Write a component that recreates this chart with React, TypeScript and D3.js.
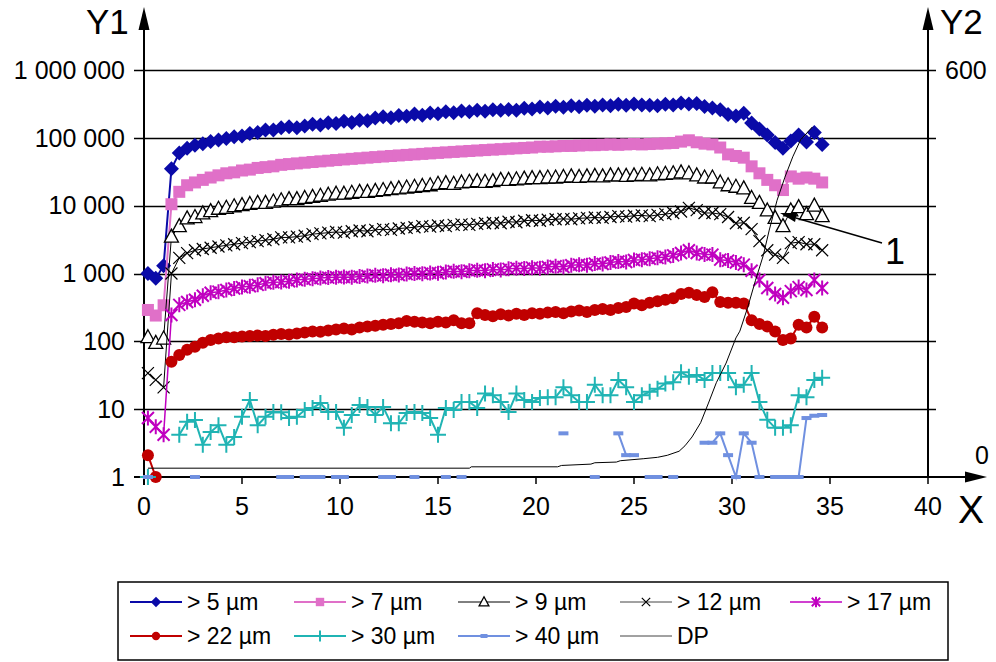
import React from "react";
import * as d3 from "d3";

// sampling times (h)
const times = [
  0.2, 0.6, 1.0, 1.4, 1.8, 2.2, 2.6, 3.0, 3.4, 3.8,
  4.2, 4.6, 5.0, 5.4, 5.8, 6.2, 6.6, 7.0, 7.4, 7.8,
  8.2, 8.6, 9.0, 9.4, 9.8, 10.2, 10.6, 11.0, 11.4, 11.8,
  12.2, 12.6, 13.0, 13.4, 13.8, 14.2, 14.6, 15.0, 15.4, 15.8,
  16.2, 16.6, 17.0, 17.4, 17.8, 18.2, 18.6, 19.0, 19.4, 19.8,
  20.2, 20.6, 21.0, 21.4, 21.8, 22.2, 22.6, 23.0, 23.4, 23.8,
  24.2, 24.6, 25.0, 25.4, 25.8, 26.2, 26.6, 27.0, 27.4, 27.8,
  28.2, 28.6, 29.0, 29.4, 29.8, 30.2, 30.6, 31.0, 31.4, 31.8,
  32.2, 32.6, 33.0, 33.4, 33.8, 34.2, 34.6,
];

const gt5 = [
  1000, 850, 1300, 35000, 60000, 70000, 78000, 82000, 88000, 93000,
  98000, 104000, 106000, 116000, 120000, 130000, 131000, 141000, 146000, 141000,
  150000, 158000, 155000, 167000, 162000, 176000, 168000, 182000, 178000, 196000,
  205000, 198000, 214000, 208000, 225000, 215000, 232000, 226000, 242000, 234000,
  248000, 242000, 256000, 246000, 260000, 254000, 262000, 256000, 272000, 265000,
  285000, 276000, 292000, 282000, 296000, 288000, 302000, 293000, 306000, 298000,
  312000, 303000, 316000, 306000, 302000, 296000, 312000, 305000, 325000, 315000,
  322000, 290000, 275000, 260000, 220000, 210000, 230000, 165000, 135000, 110000,
  85000, 70000, 90000, 110000, 87000, 120000, 80000,
];

const gt7 = [
  290, 240, 340, 10500, 16000, 20000, 22000, 24000, 26000, 28000,
  30000, 31000, 33000, 34000, 36000, 37000, 38000, 40000, 41000, 42000,
  43000, 44000, 45000, 46000, 47000, 48000, 49000, 50000, 51000, 52000,
  53000, 54000, 55000, 56000, 57000, 58000, 59000, 60000, 61000, 62000,
  63000, 64000, 65000, 66000, 67000, 68000, 69000, 70000, 71000, 72000,
  74000, 74000, 75000, 76000, 76000, 77000, 78000, 78000, 79000, 80000,
  79000, 80000, 81000, 80000, 81000, 82000, 83000, 84000, 88000, 92000,
  86000, 82000, 80000, 72000, 57000, 54000, 51000, 38000, 30000, 24000,
  20000, 17000, 27000, 25000, 26000, 25000, 22000,
];

const gt9 = [
  115, 95, 110, 3500, 5000, 6500, 6800, 7700, 8300, 9000,
  9300, 9800, 10200, 10600, 11000, 11000, 11500, 12000, 12500, 12500,
  13000, 13500, 14000, 14500, 15000, 15000, 15500, 16000, 16000, 16500,
  17000, 17500, 18000, 18500, 19000, 19500, 20000, 21000, 21500, 21000,
  22000, 22500, 23000, 22500, 23000, 24000, 24000, 24500, 25000, 25500,
  25500, 26000, 26000, 26500, 27000, 26500, 27000, 27500, 27000, 28000,
  28000, 27500, 28000, 28500, 28000, 29000, 29500, 30000, 31000, 30000,
  28000, 26000, 26000, 22000, 20000, 19000, 18000, 13000, 11000, 8500,
  6600, 5000, 8500, 9500, 7500, 10000, 7000,
];

const gt12 = [
  34, 27, 21, 1000, 1700, 2000, 2200, 2300, 2400, 2500,
  2600, 2700, 2800, 2900, 3000, 3100, 3200, 3400, 3400, 3500,
  3600, 3800, 3900, 4000, 4100, 4000, 4200, 4300, 4200, 4400,
  4500, 4400, 4600, 4700, 4800, 5000, 4900, 5100, 5000, 5200,
  5300, 5200, 5400, 5500, 5600, 5500, 5800, 5700, 6000, 6100,
  6000, 6200, 6300, 6400, 6300, 6500, 6600, 6700, 6600, 6800,
  7000, 6900, 7100, 7200, 7000, 7300, 7500, 7800, 8200, 9300,
  8600, 7800, 7800, 7500, 6800, 5500, 5600, 4500, 3000, 2200,
  1900, 1700, 2800, 2900, 2700, 2700, 2200,
];

const gt17 = [
  7.4, 5.5, 4.2, 245, 345, 380, 410, 470, 520, 540,
  570, 600, 630, 650, 680, 720, 740, 750, 770, 800,
  820, 840, 860, 870, 880, 890, 880, 900, 920, 940,
  930, 960, 950, 980, 1000, 990, 1020, 1010, 1050, 1080,
  1060, 1100, 1120, 1100, 1150, 1130, 1170, 1200, 1180, 1220,
  1200, 1250, 1280, 1250, 1320, 1350, 1320, 1400, 1380, 1450,
  1500, 1480, 1580, 1600, 1650, 1700, 1750, 1850, 2000, 2200,
  2000, 1900, 1900, 1600, 1550, 1450, 1350, 1100, 800, 610,
  500, 440, 550, 630, 570, 800, 610,
];

const gt22 = [
  2.1, 1.0, null, 50, 63, 75, 83, 95, 105, 110,
  115, 115, 118, 120, 122, 120, 125, 128, 126, 130,
  135, 140, 138, 145, 150, 155, 150, 160, 165, 170,
  175, 180, 185, 200, 195, 190, 185, 195, 190, 205,
  185, 185, 260, 245, 235, 250, 240, 255, 245, 260,
  255, 265, 270, 260, 275, 285, 270, 290, 300, 290,
  310, 320, 360, 340, 370, 390, 410, 430, 500, 520,
  480, 450, 530, 380, 370, 370, 360, 205, 180, 165,
  140, 105, 110, 175, 160, 230, 160,
];

const gt30 = [
  1, null, null, null, 4.2, 6.5, 6.9, 3.0, 4.6, 5.8,
  3.0, 3.9, 7.7, 13.7, 5.8, 7.7, 9.1, 9.0, 7.4, 7.7,
  9.7, 10.4, 12.3, 9.1, 9.1, 5.3, 8.2, 11.5, 10.8, 8.2,
  10.8, 6.2, 6.2, 8.8, 9.1, 8.8, 7.4, 4.2, 10.4, 9.7,
  12.8, 12.8, 10.4, 17, 16, 12.8, 9.1, 17, 13.7, 12.8,
  14.6, 15, 15, 21, 16, 12.8, 12.8, 23, 16, 16,
  27, 21, 12.8, 16, 18, 20, 24, 25, 35, 30,
  32, 27, 34, 34, 34, 21, 23, 34, 12.8, 7,
  5.3, 5.3, 5.8, 16, 15, 27, 29,
];

const gt40 = [
  1, null, null, null, null, null, 1, null, null, null,
  null, null, null, null, null, null, null, 1, 1, null,
  1, 1, 1, null, 1, 1, null, null, null, null,
  1, 1, null, null, 1, null, null, null, 1, null,
  1, null, null, null, null, null, null, null, null, null,
  null, null, null, 4.4, null, null, null, 1, null, null,
  4.4, 2.1, 2.1, null, 1, 1, null, 1, null, null,
  null, 3.2, 3.2, 4.4, 2.1, 1, 4.4, 3.2, 1, null,
  1, 1, 1, 1, 7.4, 8.0, 8.2,
];

// differential pressure, right axis
const dpTime = [0.2, 16.6, 16.7, 21.1, 21.3, 22.8, 23.0, 24.1, 24.3, 25.5, 26.2, 26.7, 27.3, 27.6, 27.96, 28.4, 28.8, 29.2, 29.7, 30.2, 30.4, 30.8, 31.2, 31.6, 31.9, 32.3, 32.7, 33.1, 33.5, 34.1];
const dpValue = [13, 13, 15, 15, 17, 19, 21, 22, 24, 27, 29, 32, 38, 46, 59, 80, 109, 139, 168, 205, 215, 250, 290, 327, 364, 408, 442, 472, 497, 516];

const xTicks = [0, 5, 10, 15, 20, 25, 30, 35, 40];
const y1Ticks = [1, 10, 100, 1000, 10000, 100000, 1000000];
const y1Labels = ["1", "10", "100", "1 000", "10 000", "100 000", "1 000 000"];

const series = [
  {name: "> 5 µm", values: gt5, color: "#0a0aa8", marker: "diamond", lw: 2},
  {name: "> 7 µm", values: gt7, color: "#e070c8", marker: "square", lw: 2},
  {name: "> 9 µm", values: gt9, color: "#000000", marker: "triangle", lw: 1},
  {name: "> 12 µm", values: gt12, color: "#000000", marker: "cross", lw: 1},
  {name: "> 17 µm", values: gt17, color: "#c000c0", marker: "star", lw: 1.5},
  {name: "> 22 µm", values: gt22, color: "#c00000", marker: "circle", lw: 2},
  {name: "> 30 µm", values: gt30, color: "#20b4b4", marker: "plus", lw: 2},
  {name: "> 40 µm", values: gt40, color: "#7090e0", marker: "dash", lw: 2},
];

const font = "Liberation Sans, Arial, sans-serif";

function Marker({type, x, y, color, s = 1}: any) {
  const k = (v: number) => v * s;
  switch (type) {
    case "diamond":
      return <path d={`M${x},${y - k(7.5)}L${x + k(7.5)},${y}L${x},${y + k(7.5)}L${x - k(7.5)},${y}Z`} fill={color} />;
    case "square":
      return <rect x={x - k(6)} y={y - k(6)} width={k(12)} height={k(12)} fill={color} />;
    case "triangle":
      return <path d={`M${x},${y - k(7.5)}L${x + k(7)},${y + k(5.5)}L${x - k(7)},${y + k(5.5)}Z`} fill="white" stroke="black" strokeWidth={1.3} />;
    case "cross":
      return <path d={`M${x - k(6)},${y - k(6)}L${x + k(6)},${y + k(6)}M${x - k(6)},${y + k(6)}L${x + k(6)},${y - k(6)}`} stroke={color} strokeWidth={1.2} />;
    case "star":
      return <path d={`M${x - k(6)},${y - k(6)}L${x + k(6)},${y + k(6)}M${x - k(6)},${y + k(6)}L${x + k(6)},${y - k(6)}M${x},${y - k(7.5)}L${x},${y + k(7.5)}`} stroke={color} strokeWidth={2} />;
    case "circle":
      return <circle cx={x} cy={y} r={k(6)} fill={color} />;
    case "plus":
      return <path d={`M${x - k(8)},${y}L${x + k(8)},${y}M${x},${y - k(8)}L${x},${y + k(8)}`} stroke={color} strokeWidth={2} />;
    case "dash":
      return <rect x={x - k(5)} y={y - 2} width={k(10)} height={4} fill={color} />;
    default:
      return null;
  }
}

export default function App() {
  const x = d3.scaleLinear().domain([0, 40]).range([144, 928]);
  const y = d3.scaleLog().domain([1, 1000000]).range([477, 70]);
  const y2 = d3.scaleLinear().domain([0, 600]).range([477, 70]);

  const line = d3.line<any>()
    .defined((d) => d[1] != null)
    .x((d) => x(d[0]))
    .y((d) => y(d[1]));

  const dpLine = d3.line<number>()
    .x((d, i) => x(dpTime[i]))
    .y((d) => y2(d));

  // legend layout
  const legendCols = [130, 294, 458, 620, 790];
  const legendRows = [602, 636];
  const legendItems = [
    ...series.map((s) => ({...s, dp: false})),
    {name: "DP", color: "#000000", marker: "none", lw: 1, dp: true},
  ];

  return (
    <svg width={996} height={662} style={{position: "absolute", left: 0, top: 0, background: "white"}} fontFamily={font}>
      <rect width={996} height={662} fill="white" />

      {/* grid lines */}
      {y1Ticks.slice(1).map((t) => (
        <line key={t} x1={134} x2={936} y1={Math.round(y(t)) + 0.5} y2={Math.round(y(t)) + 0.5} stroke="black" strokeWidth={1.6} />
      ))}

      {/* axes */}
      <line x1={134} x2={970} y1={y(1)} y2={y(1)} stroke="black" strokeWidth={2} />
      <path d={`M987,${y(1)}L965,${y(1) - 5.5}L965,${y(1) + 5.5}Z`} fill="black" />
      <line x1={x(0)} x2={x(0)} y1={485} y2={26} stroke="black" strokeWidth={2} />
      <path d={`M${x(0)},7L${x(0) - 5.5},30L${x(0) + 5.5},30Z`} fill="black" />
      <line x1={x(40)} x2={x(40)} y1={y(1)} y2={26} stroke="black" strokeWidth={2} />
      <path d={`M${x(40)},7L${x(40) - 5.5},30L${x(40) + 5.5},30Z`} fill="black" />

      {xTicks.map((t) => (
        <g key={t}>
          <line x1={x(t)} x2={x(t)} y1={y(1)} y2={484} stroke="black" strokeWidth={1.5} />
          <text x={x(t)} y={506} textAnchor="middle" dy="0.35em" fontSize={25}>{t}</text>
        </g>
      ))}
      {y1Ticks.map((t, i) => (
        <text key={t} x={125} y={y(t)} textAnchor="end" dy="0.35em" fontSize={25}>{y1Labels[i]}</text>
      ))}
      <text x={945} y={y2(600)} dy="0.35em" fontSize={25}>600</text>
      <text x={975} y={455} dy="0.35em" fontSize={25}>0</text>

      <text x={86} y={22} dy="0.35em" fontSize={35}>Y1</text>
      <text x={940} y={22} dy="0.35em" fontSize={35}>Y2</text>
      <text x={958} y={509} dy="0.35em" fontSize={39}>X</text>

      {/* series */}
      {series.map((s) => {
        const pts = times.map((t, i) => [t, s.values[i]]);
        return (
          <g key={s.name}>
            <path d={line(pts) || ""} fill="none" stroke={s.color} strokeWidth={s.lw} />
            {pts.filter((p) => p[1] != null).map((p, i) => (
              <Marker key={i} type={s.marker} x={x(p[0] as number)} y={y(p[1] as number)} color={s.color} />
            ))}
          </g>
        );
      })}
      <path d={dpLine(dpValue) || ""} fill="none" stroke="black" strokeWidth={1} />

      {/* annotation 1 */}
      <line x1={882} y1={243} x2={796} y2={218} stroke="black" strokeWidth={1.5} />
      <path d="M780,213L797,213L795,222Z" fill="black" />
      <text x={895} y={251} textAnchor="middle" dy="0.35em" fontSize={36}>1</text>

      {/* legend */}
      <rect x={118} y={582} width={830} height={78} fill="none" stroke="black" strokeWidth={1.5} />
      {legendItems.map((it, i) => {
        const cx = legendCols[i % 5];
        const cy = legendRows[Math.floor(i / 5)];
        return (
          <g key={it.name}>
            <line x1={cx} x2={cx + 52} y1={cy} y2={cy} stroke={it.dp || it.marker === "cross" ? "#444" : it.color} strokeWidth={it.lw} />
            {!it.dp && <Marker type={it.marker} x={cx + 26} y={cy} color={it.color} s={0.7} />}
            <text x={cx + 57} y={cy} dy="0.35em" fontSize={23}>{it.name}</text>
          </g>
        );
      })}
    </svg>
  );
}
